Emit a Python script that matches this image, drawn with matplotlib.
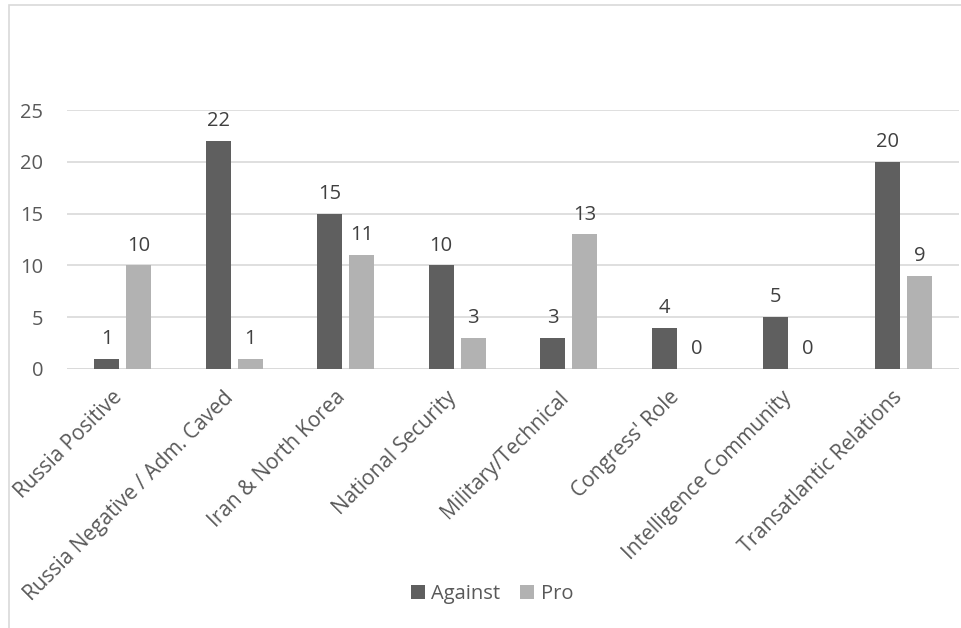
import matplotlib.pyplot as plt
import numpy as np
from matplotlib.patches import Rectangle

# Data
categories = ["Russia Positive", "Russia Negative / Adm. Caved", "Iran & North Korea",
              "National Security", "Military/Technical", "Congress' Role",
              "Intelligence Community", "Transatlantic Relations"]
against = [1, 22, 15, 10, 3, 4, 5, 20]
pro = [10, 1, 11, 3, 13, 0, 0, 9]

DARK = "#5f5f5f"
LIGHT = "#b2b2b2"
TEXT = "#595959"

plt.rcParams['font.family'] = ['Open Sans', 'DejaVu Sans']

W, H = 961, 628
fig = plt.figure(figsize=(W / 100, H / 100), dpi=100)

# light chart frame (partially cropped, like the screenshot)
fig.patches.append(Rectangle((9 / W, -0.1), 1.2, 1 - 5 / H + 0.1, transform=fig.transFigure,
                             fill=False, edgecolor="#d9d9d9", linewidth=1.2))

ax = fig.add_axes([67 / W, (H - 369) / H, (959 - 67) / W, (369 - 110) / H])

x = np.arange(len(categories))
width = 0.224
off = 0.144
b1 = ax.bar(x - off, against, width, color=DARK, label="Against", zorder=3)
b2 = ax.bar(x + off, pro, width, color=LIGHT, label="Pro", zorder=3)
ax.bar_label(b1, padding=7, fontsize=14.5, color="#404040")
ax.bar_label(b2, padding=7, fontsize=14.5, color="#404040")

ax.set_xlim(-0.5, len(categories) - 0.5)
ax.set_ylim(0, 25)
ax.set_yticks(range(0, 26, 5))
ax.yaxis.grid(True, color="#d9d9d9", linewidth=1.2, zorder=0)
for s in ax.spines.values():
    s.set_visible(False)
ax.axhline(0, color="#d9d9d9", linewidth=1.2, zorder=2)
ax.tick_params(axis="both", length=0, labelsize=14.5, labelcolor=TEXT)
ax.tick_params(axis="y", pad=17)

ax.set_xticks(x - 0.1)
ax.set_xticklabels(categories, rotation=45, ha="right", va="top", rotation_mode="anchor",
                   fontsize=15)
ax.tick_params(axis="x", pad=13)

fig.legend(loc="center", bbox_to_anchor=(492 / W, 1 - 594 / H), ncol=2, frameon=False,
           fontsize=14.5, labelcolor=TEXT, handlelength=0.7, handleheight=0.7,
           handletextpad=0.3, columnspacing=1.0)

fig.savefig("out.png", dpi=100)
